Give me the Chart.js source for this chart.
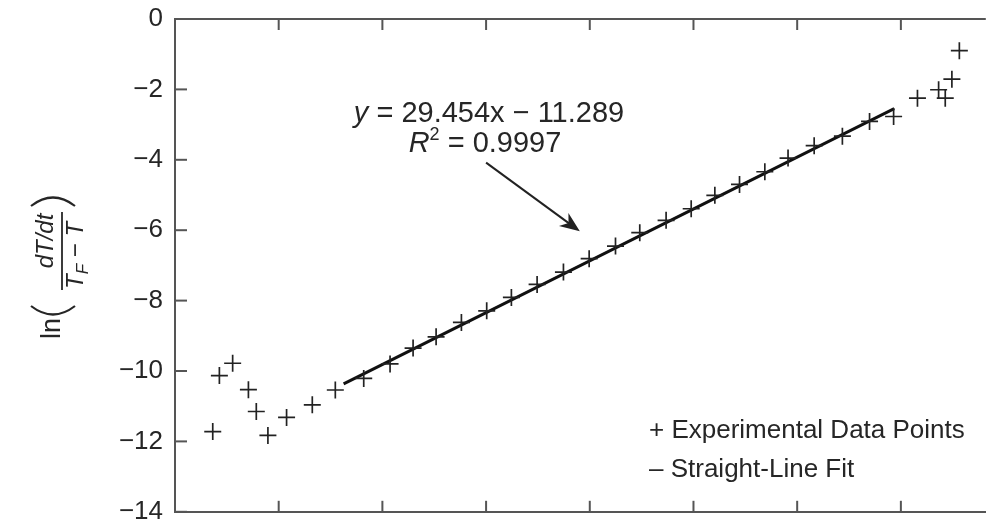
<!DOCTYPE html>
<html>
<head>
<meta charset="utf-8">
<script src="https://cdn.jsdelivr.net/npm/chart.js@4.4.1/dist/chart.umd.min.js"></script>
<style>
  html, body { margin: 0; padding: 0; background: #fff; }
  #wrap { width: 996px; height: 522px; }
</style>
</head>
<body>
<div id="wrap"><canvas id="chart" width="996" height="522"></canvas></div>
<script>
// experimental points (x units unlabelled in the source, y = ln(...))
const xValues = [
  -0.0318, -0.0286, -0.0222, -0.0146, -0.0108, -0.0052, 0.0038, 0.0162, 0.0273,
  0.0410, 0.0537, 0.0648, 0.0759, 0.0881, 0.1003, 0.1122, 0.1246, 0.1373,
  0.1497, 0.1624, 0.1741, 0.1868, 0.1989, 0.2103, 0.2222, 0.2344, 0.2456,
  0.2582, 0.2718, 0.2849, 0.2965, 0.3080, 0.3182, 0.3214, 0.3246, 0.3282
];
const yValues = [
  -11.72, -10.13, -9.78, -10.53, -11.15, -11.83, -11.32, -10.96, -10.54,
  -10.21, -9.80, -9.35, -9.03, -8.62, -8.29, -7.91, -7.54, -7.19,
  -6.81, -6.45, -6.07, -5.72, -5.39, -5.01, -4.70, -4.34, -3.95,
  -3.60, -3.33, -2.91, -2.77, -2.25, -2.01, -2.25, -1.71, -0.90
];
const yTicks = [0, -2, -4, -6, -8, -10, -12, -14];
const xTicks = [0, 0.05, 0.1, 0.15, 0.2, 0.25, 0.3];

const fitSlope = 29.454;
const fitIntercept = -11.289;
const fitRange = [0.0313, 0.2968];

const textColor = "#262626";
const axisColor = "#555555";
const font = '"Liberation Sans", Arial, sans-serif';

const fitPoints = fitRange.map((x) => ({ x: x, y: fitSlope * x + fitIntercept }));
const points = xValues.map((x, i) => ({ x: x, y: yValues[i] }));

function line(ctx, x1, y1, x2, y2) {
  ctx.beginPath();
  ctx.moveTo(x1, y1);
  ctx.lineTo(x2, y2);
  ctx.stroke();
}

const decorations = {
  id: "decorations",
  afterDraw(chart) {
    const { ctx, chartArea } = chart;
    const x = chart.scales.x;
    const y = chart.scales.y;
    ctx.save();

    // frame top + inside ticks
    ctx.strokeStyle = axisColor;
    ctx.lineWidth = 2;
    line(ctx, chartArea.left - 1, chartArea.top, chartArea.right, chartArea.top);
    yTicks.forEach((v) => {
      const py = y.getPixelForValue(v);
      line(ctx, chartArea.left, py, chartArea.left + 12, py);
    });
    xTicks.forEach((v) => {
      const px = x.getPixelForValue(v);
      line(ctx, px, chartArea.bottom, px, chartArea.bottom - 11);
      line(ctx, px, chartArea.top, px, chartArea.top + 11);
    });

    // equation + arrow
    ctx.fillStyle = textColor;
    ctx.textBaseline = "alphabetic";
    ctx.textAlign = "left";
    const eqRest = " = 29.454x \u2212 11.289";
    ctx.font = "29px " + font;
    const restW = ctx.measureText(eqRest).width;
    ctx.font = "italic 29px " + font;
    const yW = ctx.measureText("y").width;
    let sx = 489 - (restW + yW) / 2;
    ctx.fillText("y", sx, 122);
    ctx.font = "29px " + font;
    ctx.fillText(eqRest, sx + yW, 122);

    const r2Rest = " = 0.9997";
    const r2W = ctx.measureText(r2Rest).width;
    ctx.font = "italic 29px " + font;
    const rW = ctx.measureText("R").width;
    ctx.font = "18px " + font;
    const sW = ctx.measureText("2").width;
    sx = 485 - (rW + sW + r2W) / 2;
    ctx.font = "italic 29px " + font;
    ctx.fillText("R", sx, 152);
    ctx.font = "18px " + font;
    ctx.fillText("2", sx + rW, 140);
    ctx.font = "29px " + font;
    ctx.fillText(r2Rest, sx + rW + sW, 152);

    const ax1 = x.getPixelForValue(0.1), ay1 = y.getPixelForValue(-4.08);
    const ax2 = x.getPixelForValue(0.1452), ay2 = y.getPixelForValue(-6.03);
    ctx.strokeStyle = "#222";
    ctx.lineWidth = 2;
    const ang = Math.atan2(ay2 - ay1, ax2 - ax1);
    line(ctx, ax1, ay1, ax2 - 10 * Math.cos(ang), ay2 - 10 * Math.sin(ang));
    ctx.fillStyle = "#222";
    ctx.beginPath();
    ctx.moveTo(ax2, ay2);
    ctx.lineTo(ax2 - 20 * Math.cos(ang) + 8 * Math.sin(ang), ay2 - 20 * Math.sin(ang) - 8 * Math.cos(ang));
    ctx.lineTo(ax2 - 14 * Math.cos(ang), ay2 - 14 * Math.sin(ang));
    ctx.lineTo(ax2 - 20 * Math.cos(ang) - 8 * Math.sin(ang), ay2 - 20 * Math.sin(ang) + 8 * Math.cos(ang));
    ctx.closePath();
    ctx.fill();

    // legend
    ctx.fillStyle = textColor;
    ctx.font = "26px " + font;
    ctx.fillText("+ Experimental Data Points", 649, 438);
    ctx.fillText("\u2013 Straight-Line Fit", 649, 477);

    // y title, rotated
    ctx.translate(62, 264);
    ctx.rotate(-Math.PI / 2);
    ctx.font = "27px " + font;
    ctx.fillText("ln", -75, -2);

    ctx.strokeStyle = textColor;
    ctx.lineWidth = 2.2;
    // parentheses
    ctx.beginPath();
    ctx.moveTo(-42, -31);
    ctx.quadraticCurveTo(-59, -9, -42, 13);
    ctx.stroke();
    ctx.beginPath();
    ctx.moveTo(58, -31);
    ctx.quadraticCurveTo(75, -9, 58, 13);
    ctx.stroke();

    ctx.font = "italic 24px " + font;
    ctx.textAlign = "center";
    ctx.fillText("dT/dt", 23, -9);
    ctx.lineWidth = 1.8;
    line(ctx, -26, 0, 52, 0);

    ctx.textAlign = "left";
    let u = -25;
    ctx.fillText("T", u, 21);
    u += ctx.measureText("T").width;
    ctx.font = "italic 17px " + font;
    ctx.fillText("F", u, 26);
    u += ctx.measureText("F").width;
    ctx.font = "24px " + font;
    ctx.fillText(" \u2212 ", u, 21);
    u += ctx.measureText(" \u2212 ").width;
    ctx.font = "italic 24px " + font;
    ctx.fillText("T", u, 21);

    ctx.restore();
  },
};

const ctx = document.getElementById("chart").getContext("2d");
const chart = new Chart(ctx, {
  type: "scatter",
  data: {
    datasets: [
      {
        label: "Experimental Data Points",
        data: points,
        pointStyle: "cross",
        pointRadius: 8.5,
        pointBorderWidth: 1.7,
        borderColor: "#222",
        backgroundColor: "#222",
        showLine: false,
      },
      {
        label: "Straight-Line Fit",
        data: fitPoints,
        showLine: true,
        borderColor: "#111",
        borderWidth: 3,
        pointRadius: 0,
      },
    ],
  },
  options: {
    responsive: false,
    animation: false,
    layout: { padding: { left: 0, top: 19, right: 0, bottom: 9 } },
    plugins: {
      legend: { display: false },
      tooltip: { enabled: false },
    },
    scales: {
      x: {
        type: "linear",
        min: -0.05,
        max: -0.05 + 821 / 2100,
        grid: { display: false },
        border: { display: true, color: axisColor, width: 2 },
        ticks: { display: false },
        afterFit(s) {
          s.height = 0;
          s.paddingLeft = 0;
          s.paddingRight = 0;
        },
      },
      y: {
        min: -14,
        max: 0,
        grid: { display: false, drawTicks: false },
        border: { display: true, color: axisColor, width: 2 },
        ticks: {
          stepSize: 2,
          padding: 12,
          color: textColor,
          font: { family: font, size: 26 },
          callback: (v) => String(v).replace("-", "\u2212"),
        },
        afterFit(s) {
          s.width = 175;
          s.paddingTop = 0;
          s.paddingBottom = 0;
        },
      },
    },
  },
  plugins: [decorations],
});
</script>
</body>
</html>
